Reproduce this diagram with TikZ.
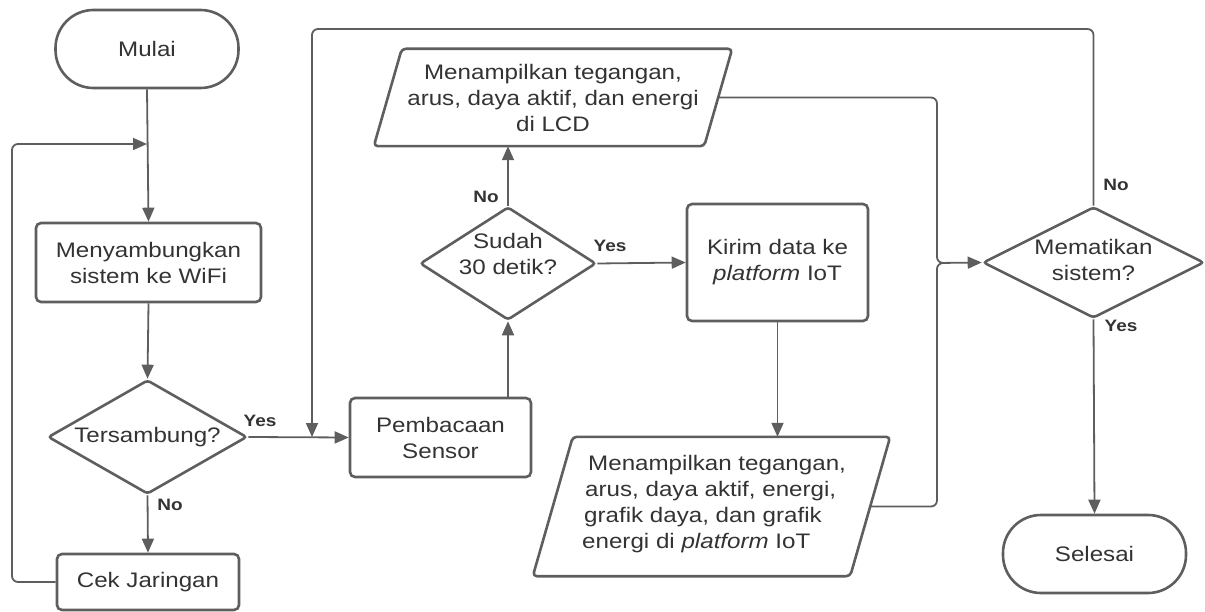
\documentclass[tikz,border=0pt]{standalone}
\usepackage{fontspec}
\setmainfont{Liberation Sans}[FakeStretch=1.15]
\usetikzlibrary{shapes.geometric,arrows.meta}
\definecolor{edge}{HTML}{5E5E5E}
\definecolor{ink}{HTML}{333333}
\tikzset{
  base/.style={draw=edge, line width=2.6pt, text=ink, inner sep=0pt, align=center,
    font=\fontsize{21}{26}\selectfont},
  term/.style={base, rectangle, rounded corners=38pt, minimum width=183pt, minimum height=78pt},
  proc/.style={base, rectangle, rounded corners=5pt},
  dectext/.style={text=ink, align=center, inner sep=0pt, font=\fontsize{21}{26}\selectfont},
  dec/.style={draw=edge, line width=2.6pt, diamond, inner sep=0pt, rounded corners=3pt},
  iotext/.style={rectangle, inner sep=0pt, text=ink, font=\fontsize{21}{26}\selectfont},
  iobox/.style={draw=edge, line width=2.6pt, rounded corners=4pt, line join=round},
  flow/.style={draw=edge, line width=1.8pt, rounded corners=6pt,
    -{Triangle[length=14pt,width=12pt]}},
  wire/.style={draw=edge, line width=1.8pt, rounded corners=6pt},
  lbl/.style={text=ink, font=\fontsize{16.5}{18}\selectfont\bfseries, inner sep=0pt}
}
\begin{document}
\begin{tikzpicture}[x=1pt,y=-1pt]
\useasboundingbox (0,0) rectangle (1205,612);

% process nodes
\node[term] (start) at (147,49) {Mulai};
\node[proc, minimum width=225pt, minimum height=79pt] (wifi) at (148.5,262.5)
  {Menyambungkan\\sistem ke WiFi};
\node[dec, minimum width=199pt, minimum height=114pt,
  label={[dectext]center:Tersambung?}] (conn) at (147.5,437) {};
\node[proc, minimum width=182pt, minimum height=56pt] (cek) at (148,582) {Cek Jaringan};
\node[proc, minimum width=181pt, minimum height=79pt] (sensor) at (440.5,437.5)
  {Pembacaan\\Sensor};
\node[dec, minimum width=176pt, minimum height=113pt,
  label={[dectext, yshift=10pt]center:Sudah\\30 detik?}] (wait) at (508,263.5) {};
\node[proc, minimum width=181pt, minimum height=117pt] (send) at (777.5,262.5)
  {Kirim data ke\\\textit{platform} IoT};
\node[dec, minimum width=221pt, minimum height=111pt,
  label={[dectext, yshift=3pt]center:Mematikan\\sistem?}] (stop) at (1093.5,262.5) {};
\node[term] (end) at (1094.5,554) {Selesai};

% input/output nodes (parallelograms)
\node[iotext, minimum width=330pt, minimum height=97pt, align=center] (lcd) at (553,97.5)
  {Menampilkan tegangan,\\arus, daya aktif, dan energi\\di LCD};
\draw[iobox] ([xshift=14pt]lcd.north west) -- ([xshift=14pt]lcd.north east)
  -- ([xshift=-14pt]lcd.south east) -- ([xshift=-14pt]lcd.south west) -- cycle;

\node[iotext, minimum width=317pt, minimum height=139pt] (iot) at (711.5,506.5) {};
\node[iotext, align=left, anchor=west] (iottxt) at (582,504)
  {\hspace{6pt}Menampilkan tegangan,\\\hspace{3pt}arus, daya aktif, energi,\\\hspace{2pt}grafik daya, dan grafik\\energi di \textit{platform} IoT};
\draw[iobox] ([xshift=20pt]iot.north west) -- ([xshift=20pt]iot.north east)
  -- ([xshift=-20pt]iot.south east) -- ([xshift=-20pt]iot.south west) -- cycle;

% junction points
\coordinate (join) at (147,144);
\coordinate (merge) at (937,263);
\coordinate (back) at (312,437);

% connectors
\draw[flow] (start.south) -- (wifi.north);
\draw[flow] (cek.west) -- (12,582) -- (12,144) -- (join);
\draw[flow] (wifi.south) -- (conn.north);
\draw[flow] (conn.south) -- (cek.north);
\draw[flow] (conn.east) -- (sensor.west);
\draw[flow] (stop.north) -- (stop.north |- 0,29) -- (312,29) -- (back);
\draw[flow] (wait.south |- sensor.north) -- (wait.south);
\draw[flow] (wait.north) -- (wait.north |- lcd.south);
\draw[flow] (wait.east) -- (send.west);
\draw[flow] (send.south) -- (send.south |- iot.north);
\draw[flow] (lcd.east) -- (lcd.east -| merge) -- (merge) -- (stop.west);
\draw[wire] (iot.east) -- (iot.east -| merge) -- (merge) -- ([xshift=12pt]merge);
\draw[flow] (stop.south) -- (end.north);

% branch labels
\node[lbl] (l1) at (260,421) {Yes};
\node[lbl] (l2) at (170,505) {No};
\node[lbl] (l3) at (486,197) {No};
\node[lbl] (l4) at (610,246) {Yes};
\node[lbl] (l5) at (1116,185) {No};
\node[lbl] (l6) at (1121,326) {Yes};
\end{tikzpicture}
\end{document}
